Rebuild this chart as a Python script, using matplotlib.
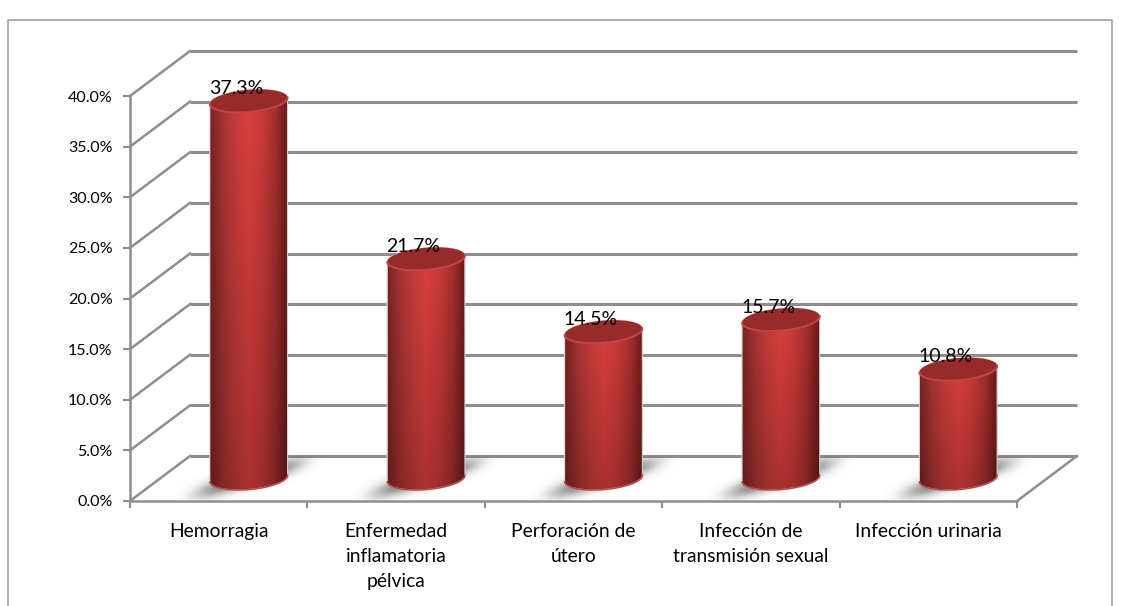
import numpy as np
import matplotlib.pyplot as plt
from matplotlib.colors import LinearSegmentedColormap
from matplotlib.lines import Line2D
from matplotlib.patches import PathPatch, Polygon
from matplotlib.path import Path

plt.rcParams['font.family'] = ['Lato', 'DejaVu Sans']

categories = ['Hemorragia', 'Enfermedad\ninflamatoria\npélvica', 'Perforación de\nútero',
              'Infección de\ntransmisión sexual', 'Infección urinaria']
values = [37.3, 21.7, 14.5, 15.7, 10.8]
labels = ['37.3%', '21.7%', '14.5%', '15.7%', '10.8%']
y_ticks = [0, 5, 10, 15, 20, 25, 30, 35, 40]

W, H = 1128, 606
GREY = '#8e8e8e'
# plot front plane in pixels
left, right, bottom, top = 130, 1017, 501, 96
depth_x, depth_y = 60, 45
bar_half, cap_b = 39, 11

fig = plt.figure(figsize=(W / 100, H / 100), dpi=100, facecolor='white')
ax = fig.add_axes([left / W, 1 - bottom / H, (right - left) / W, (bottom - top) / H])
ax.set_xlim(0, 5)
ax.set_ylim(0, 40)
ax.patch.set_visible(False)
sx = (right - left) / 5
sy = (bottom - top) / 40
dx = depth_x / sx
dy = depth_y / sy

# outer chart border
fig.add_artist(Line2D([8 / W, 8 / W, 1112 / W, 1112 / W], [0, 1 - 20 / H, 1 - 20 / H, 0],
                      color='#9a9a9a', lw=1.1))

# walls and gridlines
for t in y_ticks:
    ax.plot([dx, 5 + dx], [t + dy, t + dy], color=GREY, lw=2.2, clip_on=False,
            solid_capstyle='butt', zorder=1)
    ax.plot([0, dx], [t, t + dy], color=GREY, lw=1.8, clip_on=False, zorder=1)
ax.plot([5, 5 + dx], [0, dy], color=GREY, lw=1.8, clip_on=False, zorder=1)

for s in ['top', 'right']:
    ax.spines[s].set_visible(False)
for s in ['left', 'bottom']:
    ax.spines[s].set_color(GREY)
    ax.spines[s].set_linewidth(1.8)
ax.set_xticks(range(6))
ax.set_xticklabels([])
ax.set_yticks(y_ticks)
ax.set_yticklabels([f'{t:.1f}%' for t in y_ticks], fontsize=11.5, color='black')
ax.tick_params(axis='both', color=GREY, width=1.5, length=5, pad=7.5)

for i, cat in enumerate(categories):
    ax.annotate(cat, (i + 0.5, 0), xytext=(0, -15.5), textcoords='offset points', ha='center',
                va='top', fontsize=13.9, color='black', linespacing=1.6, annotation_clip=False)

body = LinearSegmentedColormap.from_list('body', ['#7a2222', '#aa3535', '#c83d3b', '#de403d',
                                                  '#cc3b39', '#a83030', '#6a1818'])


def ellipse(cx, cy, start=0, stop=2 * np.pi, n=80, tilt=np.radians(5)):
    t = np.linspace(start, stop, n)
    px = bar_half * np.cos(t)
    py = cap_b * np.sin(t)
    rx = px * np.cos(tilt) - py * np.sin(tilt)
    ry = px * np.sin(tilt) + py * np.cos(tilt)
    return np.column_stack([cx + rx / sx, cy + ry / sy])


# shadow alpha map, sheared along the floor
yy, xx = np.mgrid[-22:22:120j, -75:75:300j]
shear = yy - 0.3 * xx
shadow = np.zeros((120, 300, 4))
shadow[..., :3] = 0.38
shadow[..., 3] = 0.8 * np.exp(-(xx / 52) ** 4 - (shear / 8.5) ** 2)

for i, (v, lab) in enumerate(zip(values, labels)):
    cx = i + 0.5 + dx / 2
    base = dy / 2
    head = v + dy / 2

    ax.imshow(shadow, extent=[cx - 75 / sx, cx + 75 / sx, base - 22 / sy, base + 22 / sy],
              origin='lower', aspect='auto', zorder=2, clip_on=False)

    lower = ellipse(cx, base, np.pi, 2 * np.pi)
    upper = ellipse(cx, head, 0, np.pi)
    outline = np.vstack([lower, upper, lower[:1]])
    clip = PathPatch(Path(outline), transform=ax.transData, fc='none', ec='#cfcfcf', lw=0.8,
                     zorder=4, clip_on=False)
    ax.add_patch(clip)

    shade = np.linspace(0.76, 1.0, 64)[:, None]
    grad = body(np.linspace(0, 1, 128))[None, :, :3] * shade[:, :, None]
    im = ax.imshow(grad, extent=[cx - bar_half / sx, cx + bar_half / sx, base - cap_b / sy - 1,
                                 head + cap_b / sy + 1],
                   origin='lower', aspect='auto', zorder=3, clip_on=True)
    im.set_clip_path(clip)

    # bottom rim and top cap, only the near edge catches the light
    ax.plot(*lower.T, color='#bd4545', lw=1.1, zorder=5, clip_on=False)
    ax.add_patch(Polygon(ellipse(cx, head), fc='#962b29', ec='none', zorder=5, clip_on=False))
    ax.plot(*ellipse(cx, head, np.pi, 2 * np.pi).T, color='#c04646', lw=1.4, zorder=5,
            clip_on=False)

    ax.annotate(lab, (cx, head), xytext=(-9, 9), textcoords='offset points', ha='center',
                va='center', fontsize=14, color='black', zorder=6, annotation_clip=False)

ax.set_xlim(0, 5)
ax.set_ylim(0, 40)
fig.savefig('out.png', dpi=100, facecolor='white')
